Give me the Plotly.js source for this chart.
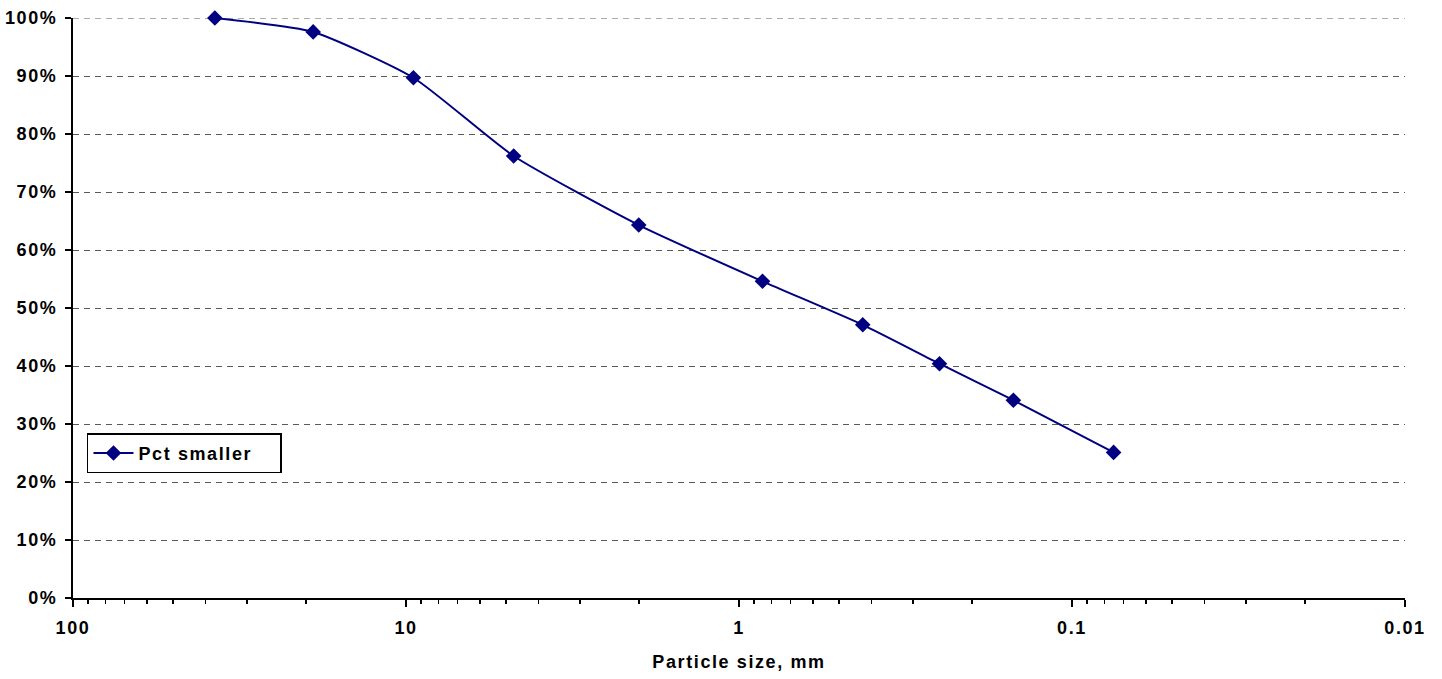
<!DOCTYPE html>
<html>
<head>
<meta charset="utf-8">
<script src="https://cdn.plot.ly/plotly-3.0.1.min.js"></script>
<style>
  html, body { margin: 0; padding: 0; background: #ffffff; }
  #chart { width: 1442px; height: 679px; }
  #chart svg text { letter-spacing: 1.6px; }
</style>
</head>
<body>
<div id="chart"></div>
<script>
// Sieve sizes (mm) and cumulative percent passing
const sieveSizes = [37.5, 19, 9.5, 4.75, 2.0, 0.85, 0.425, 0.25, 0.15, 0.075];
const pctSmaller = [100, 97.6, 89.7, 76.2, 64.3, 54.6, 47.1, 40.4, 34.1, 25.1];

// Decade labels on the size axis and the minor tick positions between them
const decadeVals = [100, 10, 1, 0.1, 0.01];
const decadeText = ['100', '10', '1', '0.1', '0.01'];
const minorVals = [];
[10, 1, 0.1, 0.01].forEach(function (base) {
  for (let k = 2; k <= 9; k++) minorVals.push(base * k);
});

const yTicks = [0, 10, 20, 30, 40, 50, 60, 70, 80, 90, 100];
const yTickText = yTicks.map(function (v) { return v + '%'; });

const navy = '#000080';
const labelFont = { family: '"Liberation Sans", Arial, sans-serif', size: 18, color: '#000000', weight: 'bold' };
const gridColor = '#5a5a5a';

const trace = {
  x: sieveSizes,
  y: pctSmaller,
  type: 'scatter',
  mode: 'lines+markers',
  name: 'Pct smaller',
  cliponaxis: false,
  line: { color: navy, width: 2, shape: 'spline', smoothing: 0.55 },
  marker: { symbol: 'diamond', size: 12, color: navy }
};

const layout = {
  width: 1442,
  height: 679,
  paper_bgcolor: '#ffffff',
  plot_bgcolor: '#ffffff',
  margin: { l: 73, r: 37, t: 18, b: 81, pad: 0 },
  font: labelFont,
  showlegend: true,
  legend: {
    orientation: 'h',
    entrywidth: 137,
    entrywidthmode: 'pixels',
    x: 0.0105, y: 0.284, xanchor: 'left', yanchor: 'top',
    bgcolor: '#ffffff', bordercolor: '#000000', borderwidth: 1.5,
    font: labelFont,
    itemwidth: 40
  },
  // dashed rule along the 100% level, which sits on the plot edge
  shapes: [{
    type: 'line', xref: 'paper', yref: 'y', x0: 0, x1: 1, y0: 100, y1: 100,
    line: { color: gridColor, width: 1, dash: '6px,5px' }, layer: 'below'
  }],
  xaxis: {
    type: 'log',
    range: [2, -2],
    tickmode: 'array',
    tickvals: decadeVals,
    ticktext: decadeText,
    ticks: 'outside',
    ticklen: 7,
    tickwidth: 1.5,
    tickcolor: '#000000',
    minor: { tickmode: 'array', tickvals: minorVals, ticks: 'outside', ticklen: 4, tickwidth: 1.5, tickcolor: '#000000', showgrid: false },
    showline: true,
    linecolor: '#000000',
    linewidth: 2,
    showgrid: false,
    zeroline: false,
    ticklabelstandoff: 5,
    tickfont: labelFont,
    title: { text: 'Particle size, mm', font: labelFont, standoff: 19 }
  },
  yaxis: {
    range: [0, 100],
    tickmode: 'array',
    tickvals: yTicks,
    ticktext: yTickText,
    ticks: 'outside',
    ticklen: 6,
    tickwidth: 1.5,
    tickcolor: '#000000',
    showline: true,
    linecolor: '#000000',
    linewidth: 2,
    showgrid: true,
    gridcolor: gridColor,
    gridwidth: 1,
    griddash: '6px,5px',
    zeroline: false,
    ticklabelstandoff: 4,
    tickfont: labelFont
  }
};

Plotly.newPlot('chart', [trace], layout, { displayModeBar: false, staticPlot: true });
</script>
</body>
</html>
